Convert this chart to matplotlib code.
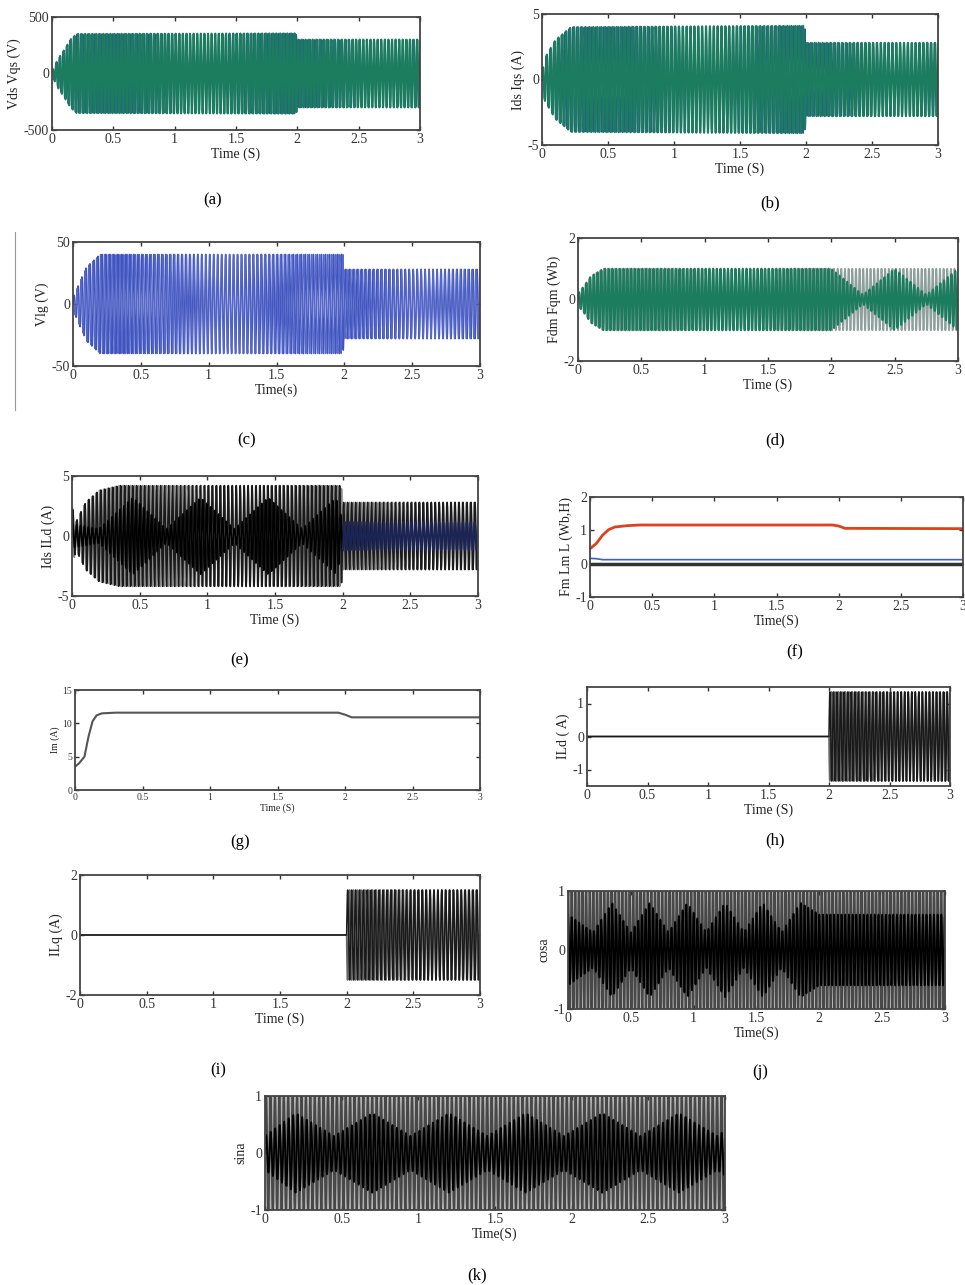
import numpy as np
import matplotlib
matplotlib.use('Agg')
import matplotlib.pyplot as plt

plt.rcParams['font.family'] = ['Liberation Serif', 'DejaVu Serif']
plt.rcParams['axes.unicode_minus'] = False

W, H = 965, 1285

# ---- data (envelope breakpoints, carrier frequency) ----
t_end = 3.0
f_car = 34.0  # apparent carrier, Hz

# (a) Vds Vqs
a_t = [0, 0.05, 0.1, 0.15, 0.2, 1.99, 2.0, 3.0]
a_env = [20, 130, 210, 300, 350, 355, 300, 300]
# (b) Ids Iqs
b_t = [0, 0.02, 0.1, 0.22, 1.99, 2.0, 3.0]
b_env = [0.5, 1.6, 3.0, 4.0, 4.1, 2.8, 2.8]
# (c) Vlg
c_t = [0, 0.05, 0.1, 0.2, 1.99, 2.0, 3.0]
c_env = [5, 18, 30, 40, 40, 28, 28]
# (d) Fdm Fqm
d_t = [0, 0.05, 0.1, 0.2, 3.0]
d_env = [0.2, 0.45, 0.75, 1.0, 1.0]
d_in_t = [0, 2.0, 2.25, 2.5, 2.75, 3.0]
d_in_env = [1.0, 1.0, 0.15, 1.0, 0.15, 1.0]
# (e) Ids ILd
e_t = [0, 0.03, 0.1, 0.2, 0.35, 1.99, 2.0, 3.0]
e_env = [2.5, 1.2, 2.8, 3.8, 4.2, 4.2, 2.8, 2.8]
e_in_t = [0, 0.2, 0.45, 0.7, 0.95, 1.2, 1.45, 1.7, 1.95, 2.0, 3.0]
e_in_env = [1.0, 0.6, 3.2, 0.6, 3.2, 0.6, 3.2, 0.6, 3.2, 1.2, 1.2]
# (f) Fm Lm L
f_t = [0, 0.05, 0.1, 0.15, 0.2, 0.3, 0.4, 1.95, 2.0, 2.05, 3.0]
f_fm = [0.45, 0.6, 0.85, 1.02, 1.1, 1.14, 1.16, 1.16, 1.13, 1.06, 1.05]
f_lm_t = [0, 0.05, 0.1, 3.0]
f_lm = [0.16, 0.15, 0.12, 0.12]
f_l = [0.0, 0.0]
# (g) Im
g_t = [0, 0.03, 0.07, 0.1, 0.13, 0.16, 0.2, 0.3, 1.95, 2.0, 2.05, 3.0]
g_im = [3.5, 4.0, 5.0, 8.0, 10.3, 11.2, 11.5, 11.6, 11.6, 11.3, 10.9, 10.9]
# (h) ILd
h_t = [0, 2.0, 2.0, 3.0]
h_env = [0, 0, 1.35, 1.35]
# (i) ILq
i_t = [0, 2.0, 2.0, 3.0]
i_env = [0, 0, 1.5, 1.5]
# (j) cos
j_in_t = [0, 0.2, 0.35, 0.5, 0.65, 0.8, 0.95, 1.1, 1.25, 1.4, 1.55, 1.7, 1.85, 2.0, 3.0]
j_in_env = [0.6, 0.3, 0.8, 0.3, 0.8, 0.3, 0.8, 0.3, 0.8, 0.3, 0.8, 0.3, 0.8, 0.6, 0.6]
# (k) sin
k_in_t = [0, 0.2, 0.45, 0.7, 0.95, 1.2, 1.45, 1.7, 1.95, 2.2, 2.45, 2.7, 2.95, 3.0]
k_in_env = [0.3, 0.7, 0.3, 0.7, 0.3, 0.7, 0.3, 0.7, 0.3, 0.7, 0.3, 0.7, 0.3, 0.4]

t = np.linspace(0, t_end, 9000)


def wave(tb, ab, f=f_car, ph=0.0, kind='sin'):
    amp = np.interp(t, tb, ab)
    s = np.sin(2 * np.pi * f * t + ph) if kind == 'sin' else np.cos(2 * np.pi * f * t + ph)
    return amp * s


def box(l, tp, r, b):
    return [l / W, 1 - b / H, (r - l) / W, (b - tp) / H]


fig = plt.figure(figsize=(W / 100, H / 100), dpi=100)


def setup(ax, ylim, yticks, ylabel, xlabel, tag, tag_xy, fs=10, lab_pad=2):
    ax.set_xlim(0, 3)
    ax.set_ylim(*ylim)
    ax.set_xticks([0, 0.5, 1, 1.5, 2, 2.5, 3])
    ax.set_xticklabels(['0', '0.5', '1', '1.5', '2', '2.5', '3'])
    ax.set_yticks(yticks)
    ax.tick_params(direction='in', top=True, right=True, labelsize=fs, length=3,
                   width=1, colors='#333333', pad=2)
    for s in ax.spines.values():
        s.set_linewidth(1.3)
        s.set_color('#444444')
    ax.set_ylabel(ylabel, fontsize=fs, labelpad=lab_pad, color='#222222')
    ax.set_xlabel(xlabel, fontsize=fs, labelpad=1, color='#222222')
    fig.text(tag_xy[0] / W, 1 - tag_xy[1] / H, tag, fontsize=12, ha='center', va='center')


# (a)
ax = fig.add_axes(box(52, 17, 420, 130))
ax.plot(t, wave(a_t, a_env, f_car * 1.02, 1.0), color='#2b5d8f', lw=1.0)
ax.plot(t, wave(a_t, a_env), color='#1b7d5e', lw=1.5)
setup(ax, (-500, 500), [-500, 0, 500], 'Vds Vqs (V)', 'Time (S)', '(a)', (213, 200))

# (b)
ax = fig.add_axes(box(542, 14, 938, 145))
ax.plot(t, wave(b_t, b_env, f_car * 1.02, 1.0), color='#2b5d8f', lw=1.0)
ax.plot(t, wave(b_t, b_env), color='#1b7d5e', lw=1.5)
setup(ax, (-5, 5), [-5, 0, 5], 'Ids Iqs (A)', 'Time (S)', '(b)', (770, 203))

# (c)
ax = fig.add_axes(box(73, 242, 480, 366))
ax.plot(t, wave(c_t, c_env), color='#4054c0', lw=1.1)
ax.plot(t, wave(c_t, c_env, f_car * 1.02, 1.5), color='#5668c8', lw=0.8)
setup(ax, (-50, 50), [-50, 0, 50], 'Vlg (V)', 'Time(s)', '(c)', (247, 440))
fig.add_artist(plt.Line2D([15 / W, 15 / W], [1 - 232 / H, 1 - 410 / H], color='#999999', lw=0.8))

# (d)
ax = fig.add_axes(box(578, 238, 958, 361))
ax.plot(t, wave(d_t, d_env, f_car * 1.02, 1.0), color='#8fa09c', lw=1.3)
ax.plot(t, wave(d_t, d_env) * np.interp(t, d_in_t, d_in_env), color='#1b7d5e', lw=1.5)
setup(ax, (-2, 2), [-2, 0, 2], 'Fdm Fqm (Wb)', 'Time (S)', '(d)', (775, 440))

# (e)
ax = fig.add_axes(box(72, 476, 478, 596))
ax.plot(t, wave(e_t, e_env, f_car * 1.02, 1.0), color='#8a8a8a', lw=1.2)
ax.plot(t, wave(e_t, e_env), color='#1a1a1a', lw=1.1)
ie = wave(e_in_t, e_in_env, f_car * 1.01, 0.5)
ax.plot(t[t < 2], ie[t < 2], color='#000000', lw=1.2)
ax.plot(t[t >= 2], ie[t >= 2], color='#1c2456', lw=1.4)
setup(ax, (-5, 5), [-5, 0, 5], 'Ids ILd (A)', 'Time (S)', '(e)', (240, 660))

# (f)
ax = fig.add_axes(box(590, 497, 963, 597))
ax.plot([0, 3], f_l, color='#333333', lw=2.5)
ax.plot(f_lm_t, f_lm, color='#3a5fc8', lw=1.2)
ax.plot(f_t, f_fm, color='#e0401e', lw=2.0)
setup(ax, (-1, 2), [-1, 0, 1, 2], 'Fm Lm L (Wb,H)', 'Time(S)', '(f)', (795, 652))

# (g)
ax = fig.add_axes(box(75, 690, 480, 790))
ax.plot(g_t, g_im, color='#555555', lw=1.5)
setup(ax, (0, 15), [0, 5, 10, 15], 'Im (A)', 'Time (S)', '(g)', (240, 842), fs=7)

# (h)
ax = fig.add_axes(box(587, 687, 950, 786))
ax.plot(t, wave(h_t, h_env, f_car * 1.02, 1.0), color='#666666', lw=1.2)
ax.plot(t, wave(h_t, h_env), color='#1a1a1a', lw=1.1)
setup(ax, (-1.5, 1.5), [-1, 0, 1], 'ILd ( A)', 'Time (S)', '(h)', (775, 840))

# (i)
ax = fig.add_axes(box(80, 875, 480, 995))
ax.plot(t, wave(i_t, i_env, f_car * 1.02, 1.0), color='#666666', lw=1.2)
ax.plot(t, wave(i_t, i_env), color='#1a1a1a', lw=1.1)
setup(ax, (-2, 2), [-2, 0, 2], 'ILq (A)', 'Time (S)', '(i)', (218, 1070))

# (j)
ax = fig.add_axes(box(568, 891, 945, 1009))
ax.set_facecolor('#b5b5b5')
ax.plot(t, np.cos(2 * np.pi * f_car * 1.02 * t), color='#484848', lw=1.5)
ax.plot(t, wave(j_in_t, j_in_env, f_car, 0.0, 'cos'), color='#000000', lw=1.3)
setup(ax, (-1, 1), [-1, 0, 1], 'cosa', 'Time(S)', '(j)', (760, 1072))

# (k)
ax = fig.add_axes(box(265, 1096, 725, 1210))
ax.set_facecolor('#b5b5b5')
ax.plot(t, np.sin(2 * np.pi * f_car * 1.02 * t), color='#484848', lw=1.5)
ax.plot(t, wave(k_in_t, k_in_env, f_car), color='#000000', lw=1.3)
setup(ax, (-1, 1), [-1, 0, 1], 'sina', 'Time(S)', '(k)', (477, 1275))

fig.savefig('out.png', dpi=100)
